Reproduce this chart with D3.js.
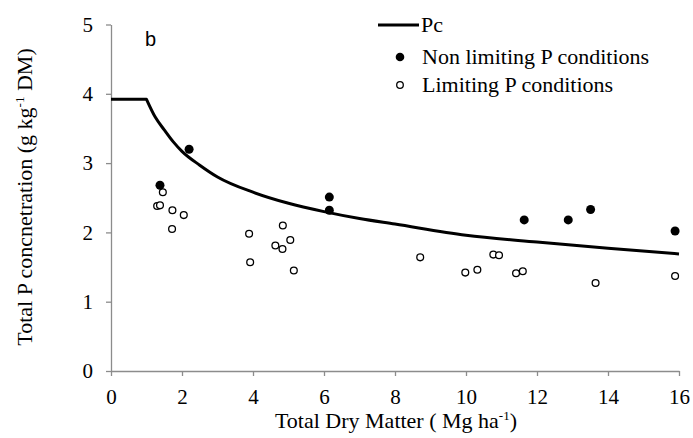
<!DOCTYPE html>
<html>
<head>
<meta charset="utf-8">
<script src="https://cdn.jsdelivr.net/npm/d3@7"></script>
<style>
  body { margin: 0; background: #fff; }
  text { font-family: "Liberation Serif", "Times New Roman", serif; fill: #000; }
</style>
</head>
<body>
<svg id="chart" width="693" height="438"></svg>
<script>
// Pc dilution curve
var pcDM = [0, 1, 1.25, 1.5, 1.75, 2, 2.5, 3, 4, 5, 6, 7, 8, 10, 12, 14, 16];
var pcVal = [3.92, 3.92, 3.66, 3.48, 3.31, 3.17, 2.97, 2.80, 2.58, 2.42, 2.30, 2.20, 2.12, 1.96, 1.86, 1.77, 1.69];

// non limiting P conditions (filled)
var nonLimDM = [2.2, 1.38, 6.15, 6.15, 11.64, 12.88, 13.51, 15.89];
var nonLimP = [3.20, 2.68, 2.51, 2.32, 2.18, 2.18, 2.33, 2.02];

// limiting P conditions (open)
var limDM = [1.46, 1.30, 1.38, 1.73, 2.05, 1.72, 3.89, 3.92, 4.84, 4.63, 4.83, 5.05, 5.15,
  8.71, 9.98, 10.32, 10.77, 10.93, 11.41, 11.60, 13.65, 15.89];
var limP = [2.58, 2.38, 2.39, 2.32, 2.25, 2.05, 1.98, 1.57, 2.10, 1.81, 1.76, 1.89, 1.45,
  1.64, 1.42, 1.46, 1.68, 1.67, 1.41, 1.44, 1.27, 1.37];

var xTicks = [0, 2, 4, 6, 8, 10, 12, 14, 16];
var yTicks = [0, 1, 2, 3, 4, 5];

var svg = d3.select('#chart');
var x = d3.scaleLinear().domain([0, 16]).range([111, 679]);
var y = d3.scaleLinear().domain([0, 5]).range([371, 24.5]);

var axisColor = '#8c8c8c';

var gx = svg.append('g').attr('transform', 'translate(0,' + y(0) + ')')
  .call(d3.axisBottom(x).tickValues(xTicks).tickFormat(d3.format('d'))
    .tickSize(5).tickSizeOuter(0).tickPadding(13));
var gy = svg.append('g').attr('transform', 'translate(' + x(0) + ',0)')
  .call(d3.axisLeft(y).tickValues(yTicks).tickFormat(d3.format('d'))
    .tickSize(5).tickSizeOuter(0).tickPadding(13));

[gx, gy].forEach(function (g) {
  g.attr('font-family', null).attr('font-size', null);
  g.select('.domain').attr('stroke', axisColor).attr('stroke-width', 1.3);
  g.selectAll('.tick line').attr('stroke', axisColor).attr('stroke-width', 1.3);
  g.selectAll('.tick text')
    .style('font-size', '21px')
    .style('font-family', '"Liberation Serif", "Times New Roman", serif')
    .attr('fill', '#000');
});

// Pc curve: flat part, then smooth decline from the corner at 1 Mg/ha
var pts = pcDM.map(function (d, i) { return [d, pcVal[i]]; });
var flat = d3.line().x(function (d) { return x(d[0]); }).y(function (d) { return y(d[1]); });
var curve = d3.line().x(function (d) { return x(d[0]); }).y(function (d) { return y(d[1]); })
  .curve(d3.curveMonotoneX);
svg.append('path')
  .attr('d', flat(pts.slice(0, 2)) + curve(pts.slice(1)).replace(/^M[^C]*?(?=C)/, ''))
  .attr('fill', 'none')
  .attr('stroke', '#000')
  .attr('stroke-width', 3)
  .attr('stroke-linejoin', 'round');

svg.append('g').selectAll('circle').data(limP).enter().append('circle')
  .attr('cx', function (d, i) { return x(limDM[i]); })
  .attr('cy', function (d) { return y(d); })
  .attr('r', 3.4)
  .attr('fill', '#fff')
  .attr('stroke', '#000')
  .attr('stroke-width', 1.3);

svg.append('g').selectAll('circle').data(nonLimP).enter().append('circle')
  .attr('cx', function (d, i) { return x(nonLimDM[i]); })
  .attr('cy', function (d) { return y(d); })
  .attr('r', 4.5)
  .attr('fill', '#000');

// panel letter
svg.append('text').attr('x', 145).attr('y', 46)
  .style('font-size', '20px')
  .style('font-family', '"Liberation Sans", Arial, sans-serif').text('b');

// legend
var lg = svg.append('g').style('font-size', '22px');
lg.append('line').attr('x1', 378).attr('x2', 419).attr('y1', 25).attr('y2', 25)
  .attr('stroke', '#000').attr('stroke-width', 3);
lg.append('text').attr('x', 421).attr('y', 32).text('Pc');
lg.append('circle').attr('cx', 400).attr('cy', 57).attr('r', 4.3).attr('fill', '#000');
lg.append('text').attr('x', 422).attr('y', 64).text('Non limiting P conditions');
lg.append('circle').attr('cx', 400).attr('cy', 85).attr('r', 3.3).attr('fill', '#fff')
  .attr('stroke', '#000').attr('stroke-width', 1.3);
lg.append('text').attr('x', 422).attr('y', 92).text('Limiting P conditions');

// axis titles
var xt = svg.append('text').attr('x', 396).attr('y', 428).style('font-size', '22px')
  .attr('text-anchor', 'middle');
xt.append('tspan').text('Total Dry Matter ( Mg ha');
xt.append('tspan').style('font-size', '13px').attr('dy', -8).text('-1');
xt.append('tspan').attr('dy', 8).text(')');

var yt = svg.append('text').attr('transform', 'translate(32,197) rotate(-90)')
  .style('font-size', '22px').attr('text-anchor', 'middle');
yt.append('tspan').text('Total P concnetration (g kg');
yt.append('tspan').style('font-size', '13px').attr('dy', -8).text('-1');
yt.append('tspan').attr('dy', 8).text(' DM)');
</script>
</body>
</html>
